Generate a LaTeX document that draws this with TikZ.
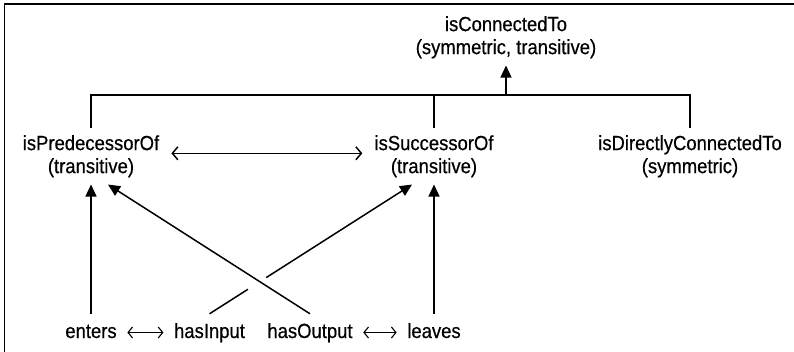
\documentclass[tikz,border=0pt]{standalone}
\usepackage{fontspec}
\setmainfont{Liberation Sans}[FakeStretch=0.9,FakeBold=0.5]
\usetikzlibrary{arrows.meta,calc}

\begin{document}
\begin{tikzpicture}[x=1pt,y=-1pt,
        term/.style={align=center,inner xsep=12pt,inner ysep=7pt,
          font=\fontsize{20.5}{23}\selectfont},
        leaf/.style={inner xsep=10.5pt,inner ysep=9pt,text height=15pt,
          text depth=4pt,font=\fontsize{20.5}{23}\selectfont},
        link/.style={line width=1.5pt},
        flow/.style={line width=1.5pt,-{Triangle[length=12pt,width=11pt]}},
        both/.style={line width=1.5pt,
          {Straight Barb[length=5.5pt,width=13pt]}-{Straight Barb[length=5.5pt,width=13pt]}},
        pair/.style={line width=1.1pt,
          {Straight Barb[length=4.5pt,width=11pt]}-{Straight Barb[length=4.5pt,width=11pt]}}
      ]
        \useasboundingbox (0,0) rectangle (794,352);
        \draw[line width=1.5pt] (4.5,352) -- (4.5,4) -- (794,4);

        \node[term] (conn) at (506,37.3) {isConnectedTo\\(symmetric, transitive)};
        \node[term] (pred) at (91,156.3) {isPredecessorOf\\(transitive)};
        \node[term] (succ) at (434,156.3) {isSuccessorOf\\(transitive)};
        \node[term] (direct) at (690,156.3) {isDirectlyConnectedTo\\(symmetric)};

        \node[leaf] (enters) at (91,332.5) {enters};
        \node[leaf] (hasIn) at (209.5,332.5) {hasInput};
        \node[leaf] (hasOut) at (310,332.5) {hasOutput};
        \node[leaf] (leaves) at (434,332.5) {leaves};

        \coordinate (junction) at (conn.south |- 0,95);
        \draw[link] (pred.north) -- (pred.north |- junction)
          -- (direct.north |- junction) -- (direct.north);
        \draw[link] (succ.north) -- (succ.north |- junction);
        \draw[flow] (junction) -- (conn.south);

        \draw[both] ([yshift=3pt]pred.east) -- ([yshift=3pt]succ.west);

        \draw[pair] (enters) -- (hasIn);
        \draw[pair] (hasOut) -- (leaves);

        \draw[flow] (enters.north) -- (pred.south);
        \draw[flow] (leaves.north) -- (succ.south);
        \draw[flow] (hasOut.north) -- ([xshift=17pt]pred.south);

        \coordinate (inTip) at ([xshift=-22pt]succ.south);
        \coordinate (gapLow) at ($(hasIn.north)!0.19!(inTip)$);
        \coordinate (gapHigh) at ($(hasIn.north)!0.28!(inTip)$);
        \draw[link] (hasIn.north) -- (gapLow);
        \draw[flow] (gapHigh) -- (inTip);
      \end{tikzpicture}
\end{document}
